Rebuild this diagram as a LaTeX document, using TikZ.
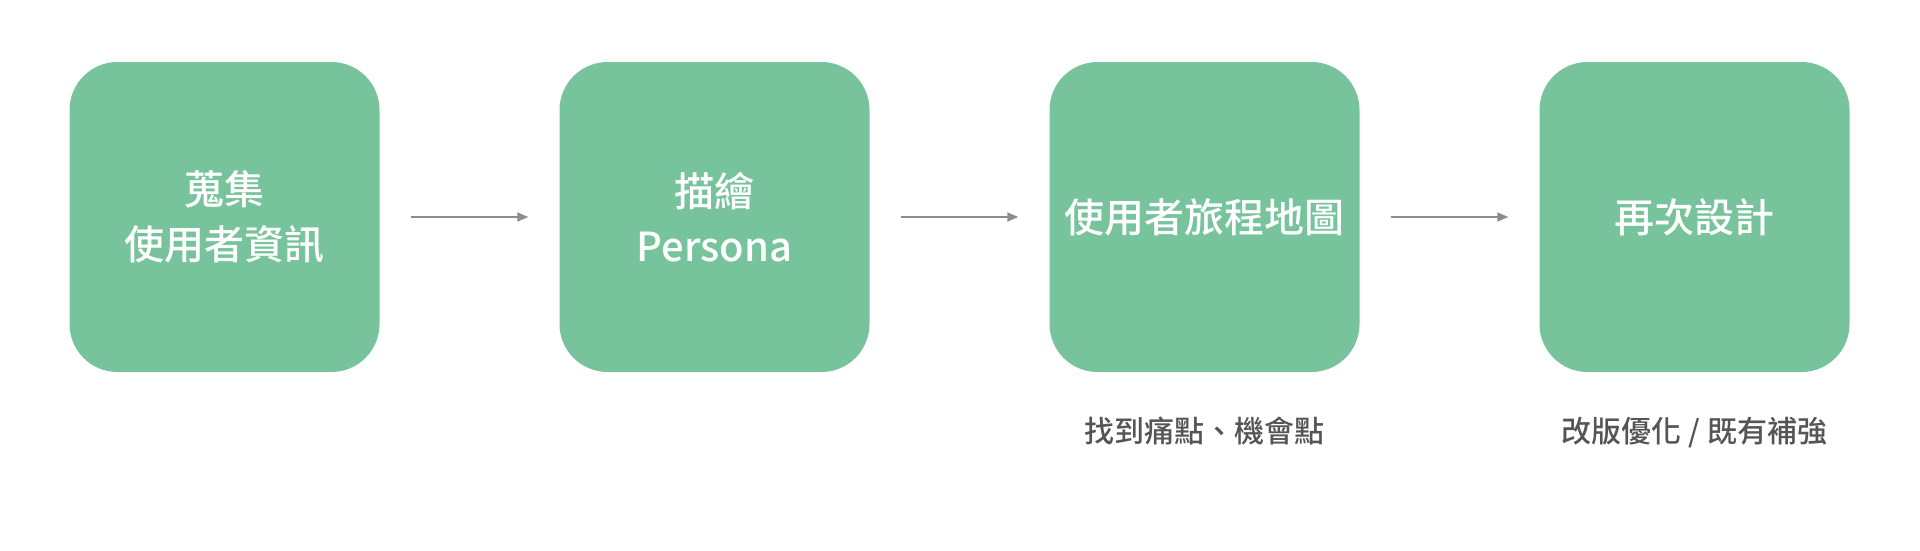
\documentclass[tikz,border=0pt]{standalone}
\usepackage{fontspec}
\newfontfamily\cjk{Noto Sans CJK TC Medium}
\usetikzlibrary{arrows.meta}
\definecolor{boxgreen}{HTML}{77C39B}
\definecolor{arrgray}{HTML}{8C8C8C}
\definecolor{subgray}{HTML}{555555}
\tikzset{
  stepbox/.style={fill=boxgreen, draw=none, rounded corners=48pt, minimum width=310pt, minimum height=310pt, inner sep=0pt},
  boxtext/.style={text=white, font=\cjk\fontsize{40}{55}\selectfont, align=center},
  subtext/.style={text=subgray, font=\cjk\fontsize{30}{35}\selectfont, anchor=base},
  arr/.style={draw=arrgray, line width=1.6pt, -{Triangle[length=11pt,width=9pt]}, shorten <=31pt, shorten >=31pt}
}
\begin{document}
\begin{tikzpicture}[x=1pt,y=-1pt]
\useasboundingbox (0,0) rectangle (1920,550);
\node[stepbox] (b1) at (224.5,217) {};
\node[stepbox] (b2) at (714.5,217) {};
\node[stepbox] (b3) at (1204.5,217) {};
\node[stepbox] (b4) at (1694.5,217) {};
\node[boxtext] (t1) at (b1) {蒐集\\使用者資訊};
\node[boxtext] (t2) at (b2) {描繪\\Persona};
\node[boxtext] (t3) at (b3) {使用者旅程地圖};
\node[boxtext] (t4) at (b4) {再次設計};
\draw[arr] (b1.east) -- (b2.west);
\draw[arr] (b2.east) -- (b3.west);
\draw[arr] (b3.east) -- (b4.west);
\node[subtext] (s3) at (1204.5,442) {找到痛點、機會點};
\node[subtext] (s4) at (1694.5,442) {改版優化 / 既有補強};
\end{tikzpicture}
\end{document}
